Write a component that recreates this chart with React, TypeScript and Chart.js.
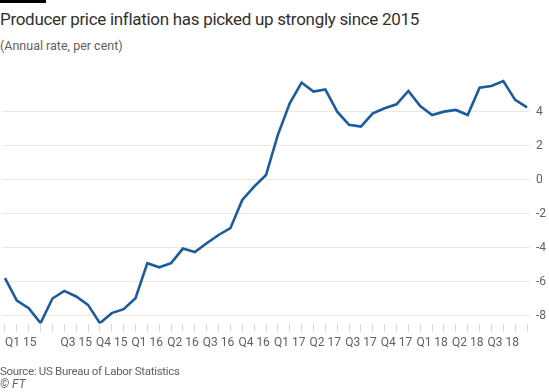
import React, { useEffect, useRef } from 'react';
import { Chart, registerables } from 'chart.js';

Chart.register(...registerables);

const years = ['15', '16', '17', '18'];
const monthsPerYear = 12;
const ppi = [
  -5.78, -7.1, -7.55, -8.43, -6.98, -6.53, -6.86, -7.35, -8.43, -7.84, -7.61, -6.96,
  -4.9, -5.14, -4.9, -4.04, -4.24, -3.73, -3.24, -2.84, -1.18, -0.39, 0.29, 2.65,
  4.51, 5.73, 5.2, 5.33, 4.02, 3.24, 3.14, 3.92, 4.22, 4.45, 5.24, 4.35,
  3.82, 4.02, 4.12, 3.82, 5.43, 5.53, 5.82, 4.71, 4.27,
];
const yTicks = [-8, -6, -4, -2, 0, 2, 4];
const hiddenQuarterLabels = ['Q2 15'];

const title = 'Producer price inflation has picked up strongly since 2015';
const subtitle = '(Annual rate, per cent)';
const source = 'Source: US Bureau of Labor Statistics';
const credit = '© FT';

function labelForIndex(i: number): string {
  if (!Number.isInteger(i)) return '';
  const m = i % monthsPerYear;
  if (m % 3 !== 0) return '';
  const y = years[Math.floor(i / monthsPerYear)];
  const lab = 'Q' + (m / 3 + 1) + ' ' + y;
  return hiddenQuarterLabels.includes(lab) ? '' : lab;
}

const FONT = 'Roboto, "Noto Sans", sans-serif';

export default function App() {
  const ref = useRef<HTMLCanvasElement | null>(null);
  useEffect(() => {
    if (!ref.current) return;
    const chart = new Chart(ref.current, {
      type: 'line',
      data: {
        datasets: [
          {
            data: ppi.map((v, i) => ({ x: i, y: v })),
            borderColor: '#1a5c9e',
            borderWidth: 2.6,
            pointRadius: 0,
            tension: 0,
            fill: false,
          },
        ],
      },
      options: {
        animation: false,
        responsive: false,
        devicePixelRatio: 1,
        layout: { padding: { top: 69.5, left: 2, right: 0, bottom: 28.5 } },
        plugins: { legend: { display: false }, tooltip: { enabled: false } },
        scales: {
          x: {
            type: 'linear',
            min: -0.25,
            max: 44.25,
            afterFit: (s: any) => { s.height = 40; },
            grid: { drawOnChartArea: false, drawTicks: true, tickLength: 8, color: '#dcd6d0' },
            border: { display: false },
            ticks: {
              stepSize: 1,
              includeBounds: false,
              autoSkip: false,
              maxRotation: 0,
              align: 'inner',
              padding: 4,
              color: '#66605c',
              font: { family: FONT, size: 12 },
              callback: (v: any) => labelForIndex(Number(v)),
            },
          },
          y: {
            position: 'right',
            min: -8.45,
            max: 6.5,
            afterFit: (s: any) => { s.width = 19; },
            afterBuildTicks: (s: any) => { s.ticks = yTicks.map((v) => ({ value: v })); },
            grid: { drawTicks: false, color: '#efe6dc', lineWidth: 1 },
            border: { display: false },
            ticks: {
              padding: 6,
              color: '#66605c',
              font: { family: FONT, size: 12 },
            },
          },
        },
      },
    });
    return () => chart.destroy();
  }, []);

  return (
    <div style={{ position: 'absolute', left: 0, top: 0, width: 549, height: 392, background: '#ffffff', overflow: 'hidden', fontFamily: FONT }}>
      <div style={{ position: 'absolute', left: 0, top: 0, width: 46, height: 3, background: '#000' }} />
      <div style={{ position: 'absolute', left: 0, top: 9, fontSize: 17, letterSpacing: '-0.3px', lineHeight: '20px', color: '#33302e', whiteSpace: 'nowrap' }}>{title}</div>
      <div style={{ position: 'absolute', left: 0, top: 38, fontSize: 12.5, lineHeight: '16px', color: '#66605c', whiteSpace: 'nowrap' }}>{subtitle}</div>
      <canvas ref={ref} width={549} height={392} style={{ position: 'absolute', left: 0, top: 0, width: 549, height: 392 }} />
      <div style={{ position: 'absolute', left: 0, top: 364, fontSize: 11.5, letterSpacing: '-0.3px', lineHeight: '15px', color: '#66605c', whiteSpace: 'nowrap' }}>{source}</div>
      <div style={{ position: 'absolute', left: 0, top: 377, fontSize: 12, lineHeight: '15px', color: '#66605c', fontStyle: 'italic', whiteSpace: 'nowrap' }}>{credit}</div>
    </div>
  );
}
